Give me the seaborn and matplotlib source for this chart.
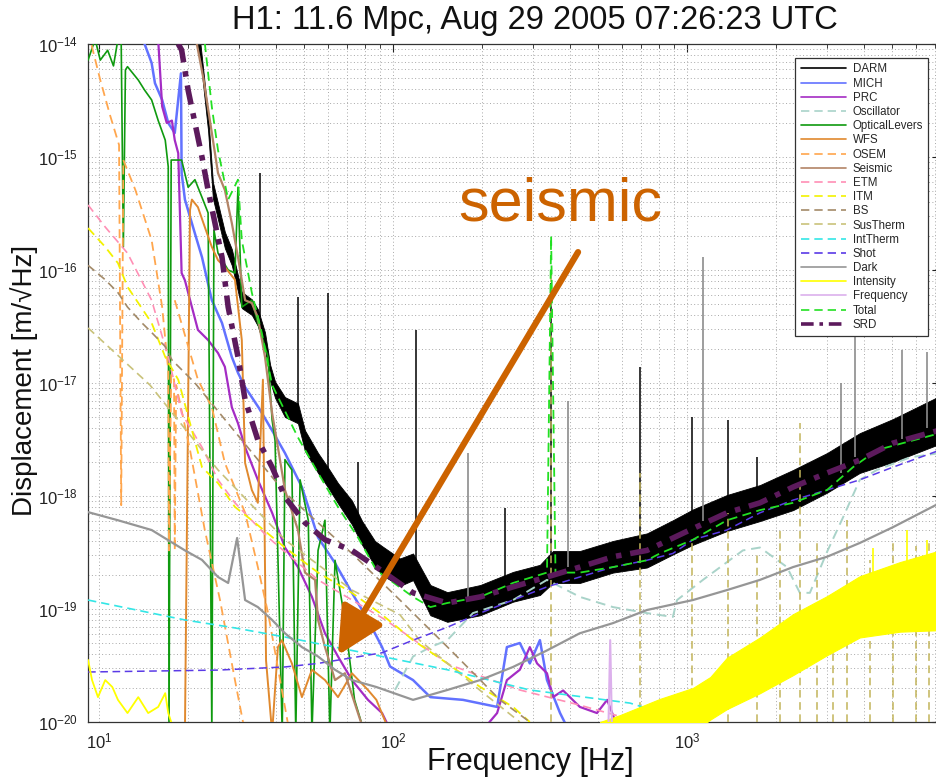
import numpy as np
import pandas as pd
import matplotlib
matplotlib.use("Agg")
import matplotlib.pyplot as plt
import seaborn as sns
from matplotlib.ticker import FixedLocator, NullFormatter, LogFormatterSciNotation
from matplotlib.lines import Line2D

# ---------------- data (Hz, m/sqrt(Hz)) ----------------
darm_f = [21.2, 22.1, 23.5, 24.4, 26.8, 28.3, 30.6, 33.1, 34.7, 36.7, 38.2, 39.7, 42.9, 47.5, 50.2, 55.6, 60, 65, 72.5, 78.5,
          86.8, 91.8, 105.6, 117, 134, 153, 198, 256, 316, 350, 432, 560, 731, 895, 1047, 1367, 1771, 2295, 2994, 3870, 5020, 7260]
darm_lo = [1.13e-14, 7.5e-15, 1.7e-15, 4.3e-16, 1.56e-16, 1.10e-16, 4.6e-17, 4.0e-17, 3.2e-17, 2.0e-17, 1.04e-17, 7.4e-18, 5.0e-18,
           4.4e-18, 2.5e-18, 1.6e-18, 1.2e-18, 8.6e-19, 5.6e-19, 3.7e-19, 2.4e-19, 2.0e-19, 1.6e-19, 1.8e-19, 8.8e-20, 7.7e-20,
           8.8e-20, 1.16e-19, 1.33e-19, 1.7e-19, 1.7e-19, 2.1e-19, 2.33e-19, 3.04e-19, 3.7e-19, 4.9e-19, 6.0e-19, 7.5e-19,
           1.07e-18, 1.6e-18, 2.0e-18, 2.9e-18]
darm_hi = [1.57e-14, 1.04e-14, 2.36e-15, 6.0e-16, 2.17e-16, 1.53e-16, 6.4e-17, 5.5e-17, 4.5e-17, 2.8e-17, 1.45e-17, 1.03e-17, 7.5e-18,
           6.6e-18, 3.8e-18, 2.4e-18, 1.8e-18, 1.3e-18, 9.1e-19, 6.0e-19, 4.0e-19, 3.6e-19, 2.8e-19, 3.1e-19, 1.63e-19, 1.41e-19,
           1.63e-19, 2.13e-19, 2.46e-19, 3.26e-19, 3.26e-19, 4.0e-19, 4.67e-19, 6.1e-19, 7.6e-19, 1.02e-18, 1.25e-18, 1.7e-18,
           2.4e-18, 3.6e-18, 4.8e-18, 7.7e-18]
blk_spike_f = [35.3, 47.5, 60, 76, 120, 240, 345, 691, 1040, 1383, 1727]
blk_spike_base = [3.8e-17, 5.4e-18, 1.47e-18, 4.7e-19, 2.35e-19, 1.4e-19, 2.35e-19, 3.3e-19, 5.3e-19, 7.1e-19, 8.7e-19]
blk_spike_top = [7.2e-16, 5.8e-17, 6.3e-17, 2.0e-18, 2.95e-17, 7.9e-19, 7.7e-17, 1.38e-17, 5.0e-18, 4.7e-18, 2.2e-18]
gray_spike_f = [180, 394, 1133, 3330, 3720, 5400, 6560]
gray_spike_base = [1.2e-19, 2.35e-19, 6e-19, 1.6e-18, 2.2e-18, 3.2e-18, 4e-18]
gray_spike_top = [2.4e-18, 7e-18, 1.3e-16, 1e-17, 1.1e-16, 1.96e-17, 1.9e-17]

mich_f = [14.1, 15.1, 15.5, 16.4, 17.2, 18.1, 19.0, 19.1, 19.6, 21.2, 22.4, 24.2, 26.2, 28.3, 29.7, 31.4, 35, 38.8, 42.9, 49.0,
          55.6, 63.5, 72.5, 82.2, 91.8, 97.7, 117, 134, 173, 226, 244, 270, 292, 316, 334, 370, 400]
mich_d = [1.1e-14, 6.8e-15, 4.5e-15, 3.2e-15, 2.0e-15, 1.63e-15, 5.5e-15, 7.2e-16, 4.2e-16, 2.1e-16, 1.3e-16, 5.4e-17, 3.4e-17,
          1.7e-17, 1.23e-17, 9.2e-18, 6e-18, 3.8e-18, 2.4e-18, 1.2e-18, 4.3e-19, 2.55e-19, 1.39e-19, 8.0e-20, 4.6e-20, 3.1e-20,
          2.35e-20, 1.66e-20, 1.57e-20, 1.36e-20, 4.6e-20, 5.0e-20, 3.3e-20, 5.3e-20, 2.35e-20, 1.2e-20, 8e-21]

prc_f = [15.9, 16.4, 17.0, 17.7, 18.1, 18.6, 19.1, 19.6, 20.7, 21.7, 23.5, 25.4, 26.8, 28.3, 29.7, 31.4, 34.7, 38.8, 42.9, 47.5,
         53.0, 58.7, 65.0, 72.5, 82.2, 91.8, 99, 198, 226, 244, 270, 292, 309, 334, 350, 379, 432, 494, 535, 591]
prc_d = [1.08e-14, 2.8e-15, 2.0e-15, 2.1e-15, 1.41e-15, 1.08e-15, 9.4e-17, 8.1e-17, 4.7e-17, 2.95e-17, 2.4e-17, 1.84e-17,
         1.39e-17, 6.1e-18, 4.4e-18, 2.7e-18, 1.39e-18, 7.1e-19, 3.5e-19, 2.35e-19, 1.28e-19, 6.1e-20, 3.8e-20, 2.35e-20,
         1.57e-20, 1.2e-20, 8e-21, 8e-21, 1.2e-20, 2.35e-20, 2.9e-20, 4.6e-20, 3.3e-20, 2.7e-20, 1.66e-20, 1.9e-20, 1.36e-20,
         1.2e-20, 1.57e-20, 8e-21]

osc_f = [101.6, 117, 134, 153, 187, 256, 334, 432, 560, 731, 895, 925, 1133, 1549, 1771, 2188, 2420, 2618, 2994, 3397, 3870,
         4426, 5744, 7260]
osc_d = [1.92e-20, 3.8e-20, 4.6e-20, 5.3e-20, 9.2e-20, 1.2e-19, 1.81e-19, 1.28e-19, 1.04e-19, 9.2e-20, 8.5e-20, 1.2e-19,
         1.81e-19, 3.3e-19, 3.5e-19, 2.35e-19, 1.39e-19, 1.39e-19, 3.2e-19, 6.5e-19, 1.39e-18, 1.7e-18, 2.2e-18, 2.4e-18]

ol_f = [9.18, 9.7, 10.1, 10.7, 11.2, 11.6, 11.9, 12.1, 12.3, 12.5, 13.6, 14.3, 15.1, 15.9, 16.8, 17.2, 17.3, 17.6, 19.1, 20.1,
        21.2, 22.4, 23.5, 24.2, 24.6, 25.4, 27.5, 29.0, 29.7, 30.6, 33.1, 34.7, 37.6, 38.8, 39.7, 42.0, 42.9, 45.3, 46.7, 48.3,
        51.5, 53.0, 55.6, 58.7, 61.0, 63.5, 68.6, 74.0, 80.0]
ol_d = [7.2e-15, 1.1e-14, 7.2e-15, 8.8e-15, 6.4e-15, 1.1e-14, 1e-14, 1.6e-16, 5.9e-15, 6.3e-15, 4.8e-15, 3.9e-15, 3.2e-15,
        2.1e-15, 1.41e-15, 8.2e-16, 8e-21, 9.4e-16, 9.4e-16, 5.4e-16, 6.3e-16, 4.4e-16, 3.2e-16, 8e-21, 2.26e-16, 1.41e-16,
        1e-16, 9.4e-17, 5.4e-16, 4.7e-17, 5.4e-17, 3.4e-17, 1.7e-17, 4.7e-18, 3.1e-18, 8e-21, 2.1e-18, 1.7e-18, 8e-21, 1.39e-18,
        6.1e-19, 8e-21, 3.3e-19, 6.1e-19, 8e-21, 2.7e-19, 8e-20, 1.57e-20, 8e-21]

wfs_f = [19.6, 20.4, 20.7, 21.7, 22.9, 24.2, 25.4, 26.8, 29.0, 30.6, 31.4, 33.1, 34.7, 36.1, 37.0, 38.8, 40.6, 41.9, 45.3,
         49.0, 53.0, 58.7, 65.0, 72.5, 82.2, 87.8, 97.7]
wfs_d = [8e-21, 3.4e-16, 4.2e-16, 3.6e-16, 2.4e-16, 1.6e-16, 1.22e-16, 1.06e-16, 8.2e-17, 2.4e-17, 1.96e-18, 1.13e-18, 8.7e-19,
         1.07e-17, 3.5e-20, 8e-21, 4.6e-20, 5.3e-20, 3.3e-20, 1.66e-20, 2.9e-20, 2.35e-20, 1.66e-20, 2.7e-20, 1.92e-20, 1.57e-20,
         8e-21]

osem_f = [9.18, 10.1, 10.9, 11.7, 11.9, 12.1, 13.3, 15.1, 16.4, 17.2, 17.3, 17.6, 18.0, 18.1, 18.3, 20.4, 22.9, 25.8, 29.0, 31.4]
osem_d = [1.3e-14, 4.8e-15, 2.35e-15, 1.28e-15, 8.3e-19, 9.4e-16, 5.1e-16, 1.84e-16, 4.7e-17, 1.3e-17, 3.3e-19, 1.2e-17,
          1.07e-17, 3.3e-19, 9.6e-18, 2.55e-18, 5.0e-19, 1.2e-19, 2.35e-20, 8e-21]
osem2_f = [18.1, 21.7, 24.2, 26.8, 31.4, 34.7, 37.6, 41.3, 44.5]
osem2_d = [5.4e-17, 1.07e-17, 6.1e-18, 1.96e-18, 7.1e-19, 2.35e-19, 9.2e-20, 2.35e-20, 8e-21]

seis_f = [21.4, 22.7, 24.2, 25.4, 26.8, 28.3, 29.7, 31.4, 33.1, 34.7, 36.7, 38.8, 40.6, 42.9, 47.5, 50.2, 54.3, 55.6, 58.7,
          63.5, 68.6, 76.0, 80.0]
seis_d = [1.08e-14, 4.8e-15, 1.63e-15, 7.2e-16, 5.1e-16, 2.6e-16, 1.3e-16, 5.4e-17, 5.1e-17, 3.8e-17, 1.7e-17, 5.4e-18, 2.7e-18,
          1.13e-18, 5.0e-19, 2.1e-19, 1.81e-19, 8e-20, 4.6e-20, 2.35e-20, 2.7e-20, 1.2e-20, 8e-21]

etm_f = [9.18, 10.5, 12.5, 15.1, 17.2, 19.1, 22.4, 25.4, 29.0, 37.6, 55.6, 94.3, 156, 270, 432, 691]
etm_d = [3.76e-16, 2.4e-16, 1.41e-16, 5.4e-17, 1.7e-17, 5.4e-18, 2.7e-18, 1.39e-18, 8.7e-19, 4.3e-19, 1.81e-19, 8e-20, 3.2e-20,
         1.92e-20, 1.41e-20, 1e-20]

itm_f = [9.18, 10.5, 11.6, 12.5, 15.1, 16.8, 18.6, 22.4, 25.4, 29.0, 33.1, 42.9, 55.6, 72.5, 90.3, 117, 153, 198, 256, 292]
itm_d = [2.35e-16, 1.6e-16, 1.15e-16, 7.1e-17, 3.4e-17, 1.7e-17, 1.07e-17, 1.8e-18, 1.3e-18, 8.0e-19, 6.1e-19, 3.5e-19, 2.1e-19,
         1.39e-19, 9.2e-20, 5.3e-20, 3.3e-20, 2.04e-20, 1.36e-20, 1e-20]

bs_f = [9.18, 10.5, 11.6, 12.5, 14.0, 15.1, 16.8, 17.7, 21.2, 42.9, 55.6, 72.5, 105.6, 156, 231, 292]
bs_d = [1.1e-16, 8.2e-17, 6.3e-17, 4.7e-17, 3.4e-17, 2.8e-17, 2.1e-17, 1.6e-17, 1e-17, 1.07e-18, 5.8e-19, 3.1e-19, 1.2e-19,
        4.4e-20, 1.57e-20, 1e-20]

sus_f = [9.18, 14.9, 25.4, 42.9, 72.5, 105.6, 123, 198, 270]
sus_d = [3.07e-17, 9.6e-18, 1.7e-18, 4.1e-19, 1.47e-19, 8.9e-20, 5.3e-20, 1.9e-20, 1e-20]
sus_peak_f = [345, 691, 1040, 1383, 1727, 2070, 2420, 2760, 3130, 3500, 4180, 5020, 6020, 6670]
sus_peak_top = [1e-16, 1.6e-18, 4.1e-19, 7.1e-19, 3.1e-19, 5.0e-19, 4.4e-18, 4.1e-19, 1.28e-19, 6.1e-19, 2.7e-19, 4.1e-19,
                3.6e-19, 4.1e-19]

intth_f = [9.18, 19.6, 29.0, 42.9, 63.5, 91.8, 153, 292, 640, 1030]
intth_d = [1.2e-19, 8.0e-20, 6.8e-20, 5.65e-20, 4.6e-20, 3.8e-20, 2.9e-20, 1.92e-20, 1.47e-20, 1e-20]

shot_f = [9.18, 25.4, 42.9, 55.6, 72.5, 91.8, 117, 153, 198, 256, 334, 432, 560, 731, 895, 1047, 1367, 1771, 2295, 2994,
          3870, 5020, 7260]
shot_d = [2.77e-20, 2.88e-20, 3.07e-20, 3.3e-20, 3.7e-20, 4.1e-20, 5.3e-20, 6.9e-20, 9.2e-20, 1.2e-19, 1.57e-19, 1.92e-19,
          2.35e-19, 2.7e-19, 3.1e-19, 4.1e-19, 5.0e-19, 7.1e-19, 9.2e-19, 1.13e-18, 1.39e-18, 1.8e-18, 2.55e-18]

dark_f = [9.18, 11.6, 15.1, 19.6, 22.4, 25.4, 27.5, 29.5, 31.4, 34.7, 38.8, 42.9, 49.0, 55.6, 63.5, 72.5, 87.8, 117, 153,
          198, 256, 334, 432, 560, 731, 1047, 1367, 1771, 2295, 2994, 3870, 5020, 7260]
dark_d = [7.2e-19, 6.1e-19, 5.0e-19, 3.3e-19, 2.72e-19, 1.92e-19, 1.7e-19, 4.25e-19, 1.2e-19, 1.04e-19, 8.0e-20, 6.1e-20,
          4.6e-20, 3.8e-20, 2.9e-20, 2.35e-20, 2.04e-20, 1.57e-20, 1.92e-20, 2.35e-20, 3.07e-20, 4.3e-20, 6.1e-20, 7.5e-20,
          9.8e-20, 1.2e-19, 1.47e-19, 1.81e-19, 2.35e-19, 2.9e-19, 3.84e-19, 5.3e-19, 8.7e-19]

int_f = [9.18, 9.47, 9.92, 10.5, 11.1, 11.6, 12.5, 13.6, 14.7, 15.9, 16.8, 17.2, 18.1]
int_d = [3.54e-20, 2.35e-20, 1.66e-20, 2.35e-20, 2.04e-20, 1.57e-20, 1.2e-20, 1.66e-20, 1.2e-20, 1.36e-20, 1.8e-20, 1.2e-20, 8e-21]
inth_f = [506, 591, 808, 1047, 1200, 1367, 1771, 2295, 2994, 3870, 5300, 7260]
inth_lo = [8e-21, 8e-21, 8e-21, 8e-21, 1.05e-20, 1.3e-20, 1.8e-20, 2.6e-20, 3.9e-20, 5.6e-20, 6.3e-20, 6.5e-20]
inth_hi = [1e-20, 1.15e-20, 1.6e-20, 2.0e-20, 2.5e-20, 3.7e-20, 5.6e-20, 9.0e-20, 1.3e-19, 1.95e-19, 2.6e-19, 3.3e-19]
int_spike_f = [4300, 5600, 6560]
int_spike_base = [1.2e-19, 1.5e-19, 1.8e-19]
int_spike_top = [3.5e-19, 5e-19, 4.1e-19]

freq_f = [540, 548, 556]
freq_d = [8e-21, 5.3e-20, 8e-21]

total_f = [22.9, 24.2, 25.4, 27.5, 29.7, 30.6, 33.1, 35.8, 38.8, 47.5, 55.6, 65.0, 76.0, 87.8, 117, 134, 153, 198, 256, 334,
           345, 357, 432, 560, 731, 808, 1047, 1367, 1771, 2295, 2994, 3670, 4426, 7260]
total_d = [1.02e-14, 2.77e-15, 1.15e-15, 4.2e-16, 6.3e-16, 1.84e-16, 6.3e-17, 2.77e-17, 9.6e-18, 3.3e-18, 1.6e-18, 8.0e-19,
           4.3e-19, 2.2e-19, 1.28e-19, 1.04e-19, 1.13e-19, 1.28e-19, 1.7e-19, 2.1e-19, 2.0e-16, 2.1e-19, 2.1e-19, 2.35e-19,
           2.7e-19, 3.1e-19, 4.1e-19, 6.1e-19, 7.5e-19, 8.7e-19, 1.13e-18, 1.8e-18, 2.55e-18, 3.6e-18]

srd_f = [18.6, 19.1, 20.1, 21.2, 22.4, 23.5, 24.8, 26.2, 27.5, 29.7, 31.4, 34.7, 38.8, 42.9, 50.2, 58.7, 72.5, 87.8, 117, 153,
         198, 256, 334, 432, 560, 731, 972, 1367, 1771, 2295, 2994, 3870, 5020, 7260]
srd_d = [1e-14, 8.85e-15, 3.9e-15, 2.0e-15, 1e-15, 5.1e-16, 2.6e-16, 1.3e-16, 4.7e-17, 1.7e-17, 7.1e-18, 3.13e-18, 1.8e-18,
         9.8e-19, 5.8e-19, 4.1e-19, 3.3e-19, 2.35e-19, 1.39e-19, 1.13e-19, 1.28e-19, 1.57e-19, 1.92e-19, 2.35e-19, 2.9e-19,
         3.3e-19, 4.7e-19, 7.1e-19, 8.7e-19, 1.2e-18, 1.6e-18, 2.08e-18, 2.94e-18, 3.84e-18]

legend_labels = ["DARM", "MICH", "PRC", "Oscillator", "OpticalLevers", "WFS", "OSEM", "Seismic", "ETM", "ITM", "BS",
                 "SusTherm", "IntTherm", "Shot", "Dark", "Intensity", "Frequency", "Total", "SRD"]

x_ticks = [10, 100, 1000]
y_ticks = [1e-20, 1e-19, 1e-18, 1e-17, 1e-16, 1e-15, 1e-14]

title_text = "H1: 11.6 Mpc, Aug 29 2005 07:26:23 UTC"
annot_text = "seismic"
annot_tip = (65.0, 3.9e-20)
annot_tail = (426, 1.44e-16)
annot_pos = (370, 3.76e-16)

# ---------------- styles ----------------
DASH = (0, (5, 3))
styles = {
    "DARM": dict(color="black", linestyle="-", lw=1.0),
    "MICH": dict(color="#6272ff", linestyle="-", lw=1.8),
    "PRC": dict(color="#a42cc4", linestyle="-", lw=1.6),
    "Oscillator": dict(color="#a9d3c9", linestyle=DASH, lw=1.4),
    "OpticalLevers": dict(color="#0f9a0f", linestyle="-", lw=1.2),
    "WFS": dict(color="#e0892e", linestyle="-", lw=1.4),
    "OSEM": dict(color="#ffa64d", linestyle=DASH, lw=1.3),
    "Seismic": dict(color="#b38466", linestyle="-", lw=1.6),
    "ETM": dict(color="#ff8fb5", linestyle=DASH, lw=1.2),
    "ITM": dict(color="#f2f200", linestyle=DASH, lw=1.3),
    "BS": dict(color="#a38a68", linestyle=DASH, lw=1.2),
    "SusTherm": dict(color="#c9c27a", linestyle=DASH, lw=1.2),
    "IntTherm": dict(color="#33e6e6", linestyle=DASH, lw=1.2),
    "Shot": dict(color="#5a3ae6", linestyle=DASH, lw=1.1),
    "Dark": dict(color="#969696", linestyle="-", lw=1.6),
    "Intensity": dict(color="#ffff00", linestyle="-", lw=1.3),
    "Frequency": dict(color="#dcb0ec", linestyle="-", lw=1.5),
    "Total": dict(color="#22e022", linestyle=DASH, lw=1.3),
    "SRD": dict(color="#5c1a5c", linestyle=(0, (3.5, 1.6, 1, 1.6)), lw=4.0),
}

sns.set_theme(style="white")
plt.rcParams["font.family"] = ["Liberation Sans", "DejaVu Sans"]
plt.rcParams["mathtext.fontset"] = "custom"
plt.rcParams["mathtext.rm"] = "Liberation Sans"
plt.rcParams["mathtext.it"] = "Liberation Sans:italic"

fig = plt.figure(figsize=(9.37, 7.78), dpi=100)
ax = fig.add_axes([88 / 937, 1 - 722 / 778, (940 - 88) / 937, 678 / 778])
ax.set_xscale("log")
ax.set_yscale("log")


def curve(x, y, name, z=2):
    st = styles[name]
    sns.lineplot(x=x, y=y, ax=ax, sort=False, estimator=None, legend=False,
                 color=st["color"], linestyle=st["linestyle"], linewidth=st["lw"], zorder=z)


# DARM band + lines
ax.fill_between(darm_f, darm_lo, darm_hi, color="black", linewidth=0.6, zorder=2)
ax.vlines(blk_spike_f, blk_spike_base, blk_spike_top, color="black", lw=1.1, zorder=2)
ax.vlines(gray_spike_f, gray_spike_base, gray_spike_top, color="#8c8c8c", lw=1.2, zorder=2)

curve(mich_f, mich_d, "MICH", 3)
curve(prc_f, prc_d, "PRC", 3)
curve(osc_f, osc_d, "Oscillator", 3)
curve(ol_f, ol_d, "OpticalLevers", 3)
curve(wfs_f, wfs_d, "WFS", 3)
curve(osem_f, osem_d, "OSEM", 3)
curve(osem2_f, osem2_d, "OSEM", 3)
curve(seis_f, seis_d, "Seismic", 3)
curve(etm_f, etm_d, "ETM", 3)
curve(itm_f, itm_d, "ITM", 3)
curve(bs_f, bs_d, "BS", 3)
curve(sus_f, sus_d, "SusTherm", 3)
ax.vlines(sus_peak_f, 1e-20, sus_peak_top, color="#c2b45a", lw=1.1, linestyles=[(0, (5, 3))], zorder=3)
curve(intth_f, intth_d, "IntTherm", 3)
curve(shot_f, shot_d, "Shot", 3)
curve(dark_f, dark_d, "Dark", 3)
curve(int_f, int_d, "Intensity", 3)
ax.fill_between(inth_f, inth_lo, inth_hi, color="#ffff00", linewidth=0.8, zorder=3)
ax.vlines(int_spike_f, int_spike_base, int_spike_top, color="#ffff00", lw=1.2, zorder=3)
curve(freq_f, freq_d, "Frequency", 3)
curve(total_f, total_d, "Total", 4)
curve(srd_f, srd_d, "SRD", 5)

ax.set_xlim(10 ** (1 - 11 / 294), 10 ** (1 + 841 / 294))
ax.set_ylim(1e-20, 1e-14)

x_minor = [m * 10 ** e for e in range(0, 4) for m in range(2, 10)]
y_minor = [m * 10.0 ** e for e in range(-20, -14) for m in range(2, 10)]
ax.xaxis.set_major_locator(FixedLocator(x_ticks))
ax.yaxis.set_major_locator(FixedLocator(y_ticks))
ax.xaxis.set_minor_locator(FixedLocator(x_minor))
ax.yaxis.set_minor_locator(FixedLocator(y_minor))
ax.xaxis.set_major_formatter(LogFormatterSciNotation())
ax.yaxis.set_major_formatter(LogFormatterSciNotation())
ax.xaxis.set_minor_formatter(NullFormatter())
ax.yaxis.set_minor_formatter(NullFormatter())
ax.grid(True, which="both", linestyle=(0, (1, 2.5)), color="#a8a8a8", linewidth=0.7, zorder=0)
ax.set_axisbelow(True)
ax.tick_params(which="both", direction="in", top=True, right=True, colors="#222222", labelsize=12)
ax.tick_params(which="major", length=6, width=0.8, pad=7)
ax.tick_params(which="minor", length=3, width=0.6)
for sp in ax.spines.values():
    sp.set_color("#333333")
    sp.set_linewidth(0.9)
ax.set_xlabel("")
ax.set_ylabel("")

fig.text(535 / 937, 1 - 20 / 778, title_text, ha="center", va="center", fontsize=23.5, color="#111111")
fig.text(530 / 937, 1 - 762 / 778, "Frequency [Hz]", ha="center", va="center", fontsize=22, color="#111111")
fig.text(24 / 937, 1 - 380 / 778, "Displacement [m/\u221aHz]", ha="center", va="center", rotation=90,
         fontsize=20, color="#111111")

handles = [Line2D([], [], color=styles[n]["color"], linestyle=styles[n]["linestyle"],
                  linewidth=(2.6 if n == "SRD" else 1.2)) for n in legend_labels]
leg = ax.legend(handles, legend_labels, loc="upper right", bbox_to_anchor=(0.986, 0.979), fontsize=8.3,
                handlelength=3.9, labelspacing=0.19, borderpad=0.45, handletextpad=0.6, borderaxespad=0,
                frameon=True, fancybox=False, framealpha=1)
leg.get_frame().set_edgecolor("#333333")
leg.get_frame().set_linewidth(0.9)
leg.set_zorder(10)

ax.annotate("", xy=annot_tip, xytext=annot_tail,
            arrowprops=dict(arrowstyle="-|>,head_length=0.9,head_width=0.45", color="#cc6300", lw=4.5,
                            mutation_scale=32, shrinkA=0, shrinkB=0), zorder=8)
ax.text(annot_pos[0], annot_pos[1], annot_text, ha="center", va="center", fontsize=44, color="#cc6300", zorder=8)

fig.savefig("out.png", dpi=100)
